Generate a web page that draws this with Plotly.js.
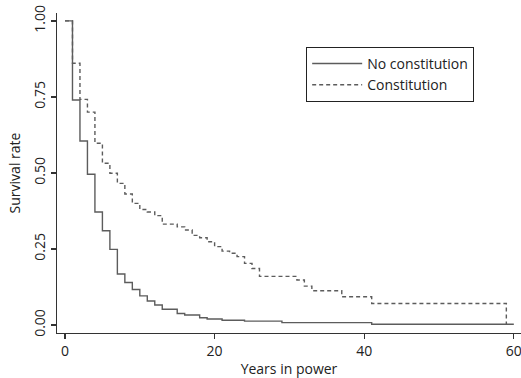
<!DOCTYPE html>
<html>
<head>
<meta charset="utf-8">
<script src="https://cdn.plot.ly/plotly-3.0.1.min.js"></script>
<style>html,body{margin:0;padding:0;background:#fff;}#chart{width:521px;height:378px;}</style>
</head>
<body>
<div id="chart"></div>
<script>
// No constitution: step times (years) and survival after each step
const yearsNoConst = [0, 1, 2, 3, 4, 5, 6, 7, 8, 9, 10, 11, 12, 13, 15, 16, 18, 19, 21, 24, 29, 41, 60];
const survNoConst  = [1.0, 0.74, 0.605, 0.496, 0.372, 0.31, 0.249, 0.168, 0.14, 0.117, 0.096, 0.079, 0.066, 0.052, 0.038, 0.033, 0.024, 0.020, 0.016, 0.013, 0.008, 0.003, 0.003];

// Constitution
const yearsConst = [0, 1, 2, 3, 4, 5, 6, 7, 8, 9, 10, 11, 12, 13, 15, 16, 17, 18, 19, 20, 21, 22, 23, 24, 25, 26, 31, 32, 33, 37, 41, 59];
const survConst  = [1.0, 0.861, 0.742, 0.70, 0.598, 0.532, 0.499, 0.466, 0.431, 0.40, 0.38, 0.372, 0.36, 0.332, 0.323, 0.3125, 0.295, 0.287, 0.274, 0.258, 0.243, 0.236, 0.225, 0.203, 0.186, 0.16, 0.148, 0.128, 0.113, 0.093, 0.071, 0.0];

const seriesNames = ["No constitution", "Constitution"];
const xTicks = [0, 20, 40, 60];
const yTicks = [0, 0.25, 0.5, 0.75, 1];

const FONT = "Open Sans, DejaVu Sans, sans-serif";
const LINE = "#5c5c5c";

const traces = [
  {x: yearsNoConst, y: survNoConst, name: seriesNames[0], type: "scatter", mode: "lines",
   line: {shape: "hv", color: LINE, width: 1.4}},
  {x: yearsConst, y: survConst, name: seriesNames[1], type: "scatter", mode: "lines",
   line: {shape: "hv", color: LINE, width: 1.4, dash: "4px,3px"}}
];

const layout = {
  width: 521, height: 378,
  margin: {l: 57, r: 0, t: 13, b: 45, pad: 0},
  paper_bgcolor: "#fff", plot_bgcolor: "#fff",
  font: {family: FONT, size: 14, color: "#222"},
  showlegend: true,
  legend: {x: 0.537, y: 0.894, xanchor: "left", yanchor: "top",
           bordercolor: "#222", borderwidth: 1, bgcolor: "#fff", itemwidth: 50,
           font: {family: FONT, size: 14, color: "#222"}, tracegroupgap: 0},
  xaxis: {range: [-1.07, 60.96], tickvals: xTicks, ticktext: xTicks.map(String),
          ticklabeloverflow: "allow",
          showgrid: false, zeroline: false, showline: true, linecolor: "#333", linewidth: 1.2,
          ticks: "outside", ticklen: 5, tickcolor: "#333", tickwidth: 1.2,
          tickfont: {size: 14}, title: {text: "Years in power", font: {size: 14}, standoff: 6}},
  yaxis: {range: [-0.026, 1.026], tickvals: yTicks, ticktext: yTicks.map(v => v.toFixed(2)),
          tickangle: -90,
          showgrid: false, zeroline: false, showline: true, linecolor: "#333", linewidth: 1.2,
          ticks: "outside", ticklen: 5, tickcolor: "#333", tickwidth: 1.2,
          tickfont: {size: 14}, title: {text: "Survival rate", font: {size: 14}, standoff: 6}}
};

Plotly.newPlot("chart", traces, layout, {displayModeBar: false, staticPlot: true});
</script>
</body>
</html>
